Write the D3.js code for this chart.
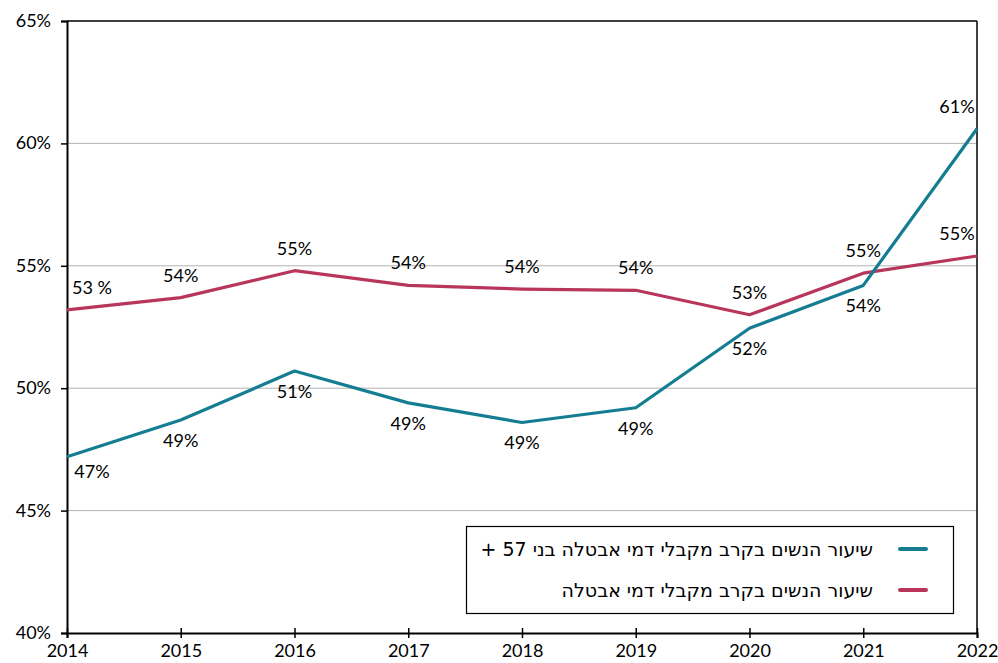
<!DOCTYPE html>
<html>
<head>
<meta charset="utf-8">
<script src="https://cdn.jsdelivr.net/npm/d3@7"></script>
<style>
  body { margin: 0; background: #fff; }
  svg { display: block; }
  .tick text { font-family: Lato, "Open Sans", sans-serif; font-size: 18px; fill: #000; }
  .lbl { font-family: Lato, "Open Sans", sans-serif; font-size: 18px; fill: #000; }
  .leg { font-family: "DejaVu Sans", sans-serif; font-size: 19px; fill: #000; }
</style>
</head>
<body>
<script>
(function(window, document, d3) {
  var YEARS = [2014, 2015, 2016, 2017, 2018, 2019, 2020, 2021, 2022];
  // women share among unemployment recipients aged 57+
  var OLDER = [47.2, 48.7, 50.7, 49.4, 48.6, 49.2, 52.45, 54.2, 60.6];
  // women share among all unemployment recipients
  var ALL = [53.2, 53.7, 54.8, 54.2, 54.05, 54.0, 53.0, 54.7, 55.4];
  var Y_TICKS = [40, 45, 50, 55, 60, 65];
  var NAMES = [
    "שיעור הנשים בקרב מקבלי דמי אבטלה בני 57 +",
    "שיעור הנשים בקרב מקבלי דמי אבטלה"
  ];
  // which side of the point each label sits on
  var OLDER_SIDE = ["below", "below", "below", "below", "below", "below", "below", "below", "above"];
  var ALL_SIDE = ["above", "above", "above", "above", "above", "above", "above", "above", "above"];

  var COLORS = ["#147d92", "#b8365c"];
  var W = 998, H = 663;
  var m = {top: 21, right: 21, bottom: 30, left: 67};

  var svg = d3.select("body").append("svg").attr("width", W).attr("height", H);

  var x = d3.scaleLinear().domain([2014, 2022]).range([m.left, W - m.right]);
  var y = d3.scaleLinear().domain([40, 65]).range([H - m.bottom, m.top]);

  // gridlines
  svg.append("g").selectAll("line")
    .data(Y_TICKS.filter(function(t) { return t > 40 && t < 65; }))
    .enter().append("line")
    .attr("x1", m.left).attr("x2", W - m.right)
    .attr("y1", function(d) { return y(d); }).attr("y2", function(d) { return y(d); })
    .attr("stroke", "#b3b3b3").attr("stroke-width", 1);

  // frame top / right
  svg.append("line").attr("x1", m.left).attr("x2", W - m.right)
    .attr("y1", m.top).attr("y2", m.top).attr("stroke", "#000").attr("stroke-width", 1.5);
  svg.append("line").attr("x1", W - m.right).attr("x2", W - m.right)
    .attr("y1", m.top).attr("y2", H - m.bottom).attr("stroke", "#000").attr("stroke-width", 1.5);

  var yAxis = svg.append("g").attr("transform", "translate(" + m.left + ",0)")
    .call(d3.axisLeft(y).tickValues(Y_TICKS).tickSize(6).tickPadding(10)
      .tickFormat(function(d) { return d + "%"; }));
  var xAxis = svg.append("g").attr("transform", "translate(0," + (H - m.bottom) + ")")
    .call(d3.axisBottom(x).tickValues(YEARS).tickSize(5).tickPadding(5)
      .tickFormat(d3.format("d")));
  xAxis.selectAll(".tick line").attr("y1", -5);
  [yAxis, xAxis].forEach(function(a) {
    a.select(".domain").attr("stroke", "#000").attr("stroke-width", 2);
    a.selectAll(".tick line").attr("stroke", "#000").attr("stroke-width", 1.5);
  });
  yAxis.selectAll(".tick text").attr("dy", "0.3em");
  xAxis.selectAll(".tick text").attr("dy", "0.78em");

  var line = d3.line()
    .x(function(d, i) { return x(YEARS[i]); })
    .y(function(d) { return y(d); });

  var series = [
    {vals: ALL, side: ALL_SIDE, color: COLORS[1]},
    {vals: OLDER, side: OLDER_SIDE, color: COLORS[0]}
  ];

  series.forEach(function(s) {
    svg.append("path").datum(s.vals)
      .attr("d", line)
      .attr("fill", "none")
      .attr("stroke", s.color)
      .attr("stroke-width", 3.2)
      .attr("stroke-linejoin", "round");
  });

  series.forEach(function(s) {
    svg.append("g").selectAll("text")
      .data(s.vals)
      .enter().append("text")
      .attr("class", "lbl")
      .attr("text-anchor", "middle")
      .attr("x", function(d, i) {
        if (i === 0) return x(YEARS[i]) + 25;
        if (i === YEARS.length - 1) return x(YEARS[i]) - 20;
        return x(YEARS[i]);
      })
      .attr("y", function(d, i) {
        if (s.side[i] === "above") return y(d) - 16;
        return y(d) + (i === 0 ? 21 : 27);
      })
      .text(function(d, i) { return Math.round(d) + (s.vals === ALL && i === 0 ? " %" : "%"); });
  });

  // legend
  var lg = svg.append("g");
  lg.append("rect")
    .attr("x", 466.5).attr("y", 526.5).attr("width", 487).attr("height", 87)
    .attr("fill", "#fff").attr("stroke", "#000").attr("stroke-width", 1.2);
  [COLORS[0], COLORS[1]].forEach(function(c, i) {
    var yy = 549 + i * 41;
    lg.append("line").attr("x1", 900).attr("x2", 926)
      .attr("y1", yy).attr("y2", yy)
      .attr("stroke", c).attr("stroke-width", 4).attr("stroke-linecap", "round");
    lg.append("text").attr("class", "leg")
      .attr("x", 873).attr("y", yy + 7)
      .attr("direction", "rtl")
      .attr("text-anchor", "start")
      .text(NAMES[i]);
  });
}).call(this, window, document, d3);
</script>
</body>
</html>
